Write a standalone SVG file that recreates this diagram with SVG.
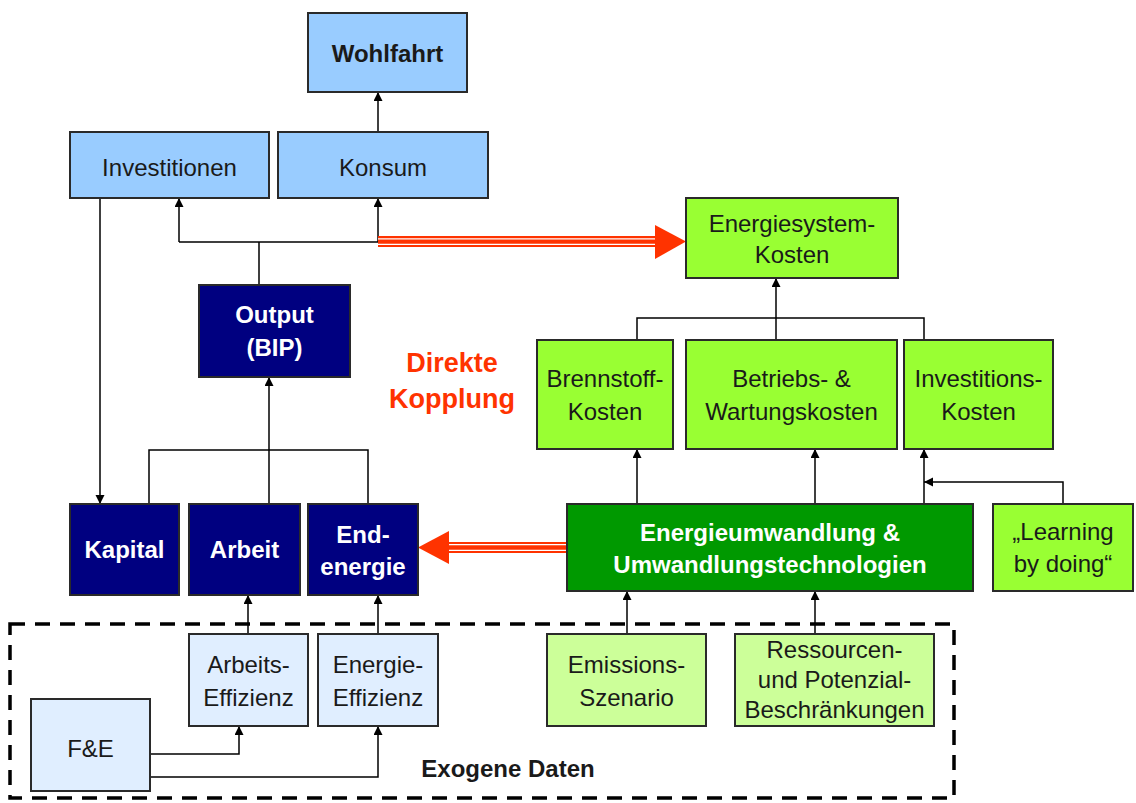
<svg xmlns="http://www.w3.org/2000/svg" width="1136" height="803" viewBox="0 0 1136 803">
<defs>
<style>
.box{stroke:#2a2a2a;stroke-width:2}
.lb{fill:#99CCFF}
.nv{fill:#000080}
.lg{fill:#99FF33}
.dg{fill:#009900}
.pg{fill:#CCFF99}
.pb{fill:#E0EEFF}
.t{font-family:"Liberation Sans",Arial,sans-serif;font-size:24px;fill:#1a1a1a;text-anchor:middle}
.tb{font-family:"Liberation Sans",Arial,sans-serif;font-size:24px;font-weight:bold;fill:#1a1a1a;text-anchor:middle}
.tw{font-family:"Liberation Sans",Arial,sans-serif;font-size:24px;font-weight:bold;fill:#ffffff;text-anchor:middle}
.c{fill:none;stroke:#000;stroke-width:1.5}
.a{marker-end:url(#ah)}
</style>
<marker id="ah" markerUnits="userSpaceOnUse" markerWidth="10" markerHeight="10" refX="9" refY="4.5" orient="auto">
<path d="M0,0 L9,4.5 L0,9 z" fill="#000"/>
</marker>
</defs>
<rect width="1136" height="803" fill="#fff"/>

<g id="exogen-frame">
<rect x="10" y="624" width="944" height="174" fill="none" stroke="#000" stroke-width="3.5" stroke-dasharray="15,10"/>
<text class="tb" x="508" y="777" font-size="22">Exogene Daten</text>
</g>

<g id="connectors">
<path class="c a" d="M378,132 V92"/>
<path class="c" d="M259,285 V242 M179,242 H378"/>
<path class="c a" d="M179,242 V198"/>
<path class="c a" d="M378,242 V198"/>
<path class="c a" d="M100,198 V504"/>
<path class="c" d="M149,504 V450 H368 V504"/>
<path class="c a" d="M269,504 V377"/>
<path class="c a" d="M248,634 V595"/>
<path class="c a" d="M378,634 V595"/>
<path class="c a" d="M150,754 H239 V726"/>
<path class="c a" d="M150,777 H378 V726"/>
<path class="c a" d="M627,634 V591"/>
<path class="c a" d="M815,634 V591"/>
<path class="c a" d="M637,504 V449"/>
<path class="c a" d="M815,504 V449"/>
<path class="c a" d="M924,504 V449"/>
<path class="c a" d="M1063,504 V482 H924"/>
<path class="c" d="M637,340 V318 H924 V340"/>
<path class="c a" d="M776,340 V278"/>
<g id="kopplung-right">
<line x1="378" y1="241.5" x2="656" y2="241.5" stroke="#FF3300" stroke-width="11"/>
<line x1="378" y1="238.8" x2="656" y2="238.8" stroke="#fff" stroke-width="1.3"/>
<line x1="378" y1="244.3" x2="656" y2="244.3" stroke="#fff" stroke-width="1.3"/>
<polygon points="655,225 686,241.5 655,259" fill="#FF3300"/>
</g>
<g id="kopplung-left">
<line x1="567" y1="547.5" x2="448" y2="547.5" stroke="#FF3300" stroke-width="11"/>
<line x1="567" y1="544.7" x2="448" y2="544.7" stroke="#fff" stroke-width="1.3"/>
<line x1="567" y1="550.3" x2="448" y2="550.3" stroke="#fff" stroke-width="1.3"/>
<polygon points="449,531 418,547.5 449,564" fill="#FF3300"/>
</g>
</g>

<g id="wohlfahrt"><rect class="box lb" x="308" y="13" width="159" height="79"/><text class="tb" x="387.5" y="62">Wohlfahrt</text></g>
<g id="investitionen"><rect class="box lb" x="70" y="132" width="199" height="66"/><text class="t" x="169.5" y="176">Investitionen</text></g>
<g id="konsum"><rect class="box lb" x="278" y="132" width="210" height="66"/><text class="t" x="383" y="176">Konsum</text></g>
<g id="output"><rect class="box nv" x="199" y="285" width="151" height="92"/><text class="tw" x="274.5" y="323">Output</text><text class="tw" x="274.5" y="356">(BIP)</text></g>
<g id="kapital"><rect class="box nv" x="70" y="504" width="109" height="91"/><text class="tw" x="124.5" y="558">Kapital</text></g>
<g id="arbeit"><rect class="box nv" x="189" y="504" width="111" height="91"/><text class="tw" x="244.5" y="558">Arbeit</text></g>
<g id="endenergie"><rect class="box nv" x="308" y="504" width="110" height="91"/><text class="tw" x="363" y="543">End-</text><text class="tw" x="363" y="575">energie</text></g>

<g id="direkte-kopplung"><text class="tb" x="452" y="372" font-size="27" style="fill:#FF3300;font-size:27px">Direkte</text><text class="tb" x="452" y="408" style="fill:#FF3300;font-size:27px">Kopplung</text></g>

<g id="energiesystemkosten"><rect class="box lg" x="686" y="198" width="212" height="80"/><text class="t" x="792" y="232">Energiesystem-</text><text class="t" x="792" y="263">Kosten</text></g>
<g id="brennstoffkosten"><rect class="box lg" x="537" y="340" width="136" height="109"/><text class="t" x="605" y="387">Brennstoff-</text><text class="t" x="605" y="420">Kosten</text></g>
<g id="betriebskosten"><rect class="box lg" x="686" y="340" width="211" height="109"/><text class="t" x="791.5" y="387">Betriebs- &amp;</text><text class="t" x="791.5" y="420">Wartungskosten</text></g>
<g id="investitionskosten"><rect class="box lg" x="904" y="340" width="149" height="109"/><text class="t" x="978.5" y="387">Investitions-</text><text class="t" x="978.5" y="420">Kosten</text></g>
<g id="energieumwandlung"><rect class="box dg" x="567" y="504" width="406" height="87"/><text class="tw" x="770" y="541">Energieumwandlung &amp;</text><text class="tw" x="770" y="573">Umwandlungstechnologien</text></g>
<g id="learning"><rect class="box lg" x="993" y="504" width="140" height="87"/><text class="t" x="1063" y="540">„Learning</text><text class="t" x="1063" y="572">by doing“</text></g>

<g id="arbeitseffizienz"><rect class="box pb" x="189" y="634" width="119" height="92"/><text class="t" x="248.5" y="673">Arbeits-</text><text class="t" x="248.5" y="706">Effizienz</text></g>
<g id="energieeffizienz"><rect class="box pb" x="318" y="634" width="120" height="92"/><text class="t" x="378" y="673">Energie-</text><text class="t" x="378" y="706">Effizienz</text></g>
<g id="fe"><rect class="box pb" x="31" y="699" width="119" height="92"/><text class="t" x="90.5" y="757">F&amp;E</text></g>
<g id="emissionsszenario"><rect class="box pg" x="547" y="634" width="159" height="92"/><text class="t" x="626.5" y="673">Emissions-</text><text class="t" x="626.5" y="706">Szenario</text></g>
<g id="ressourcen"><rect class="box pg" x="735" y="634" width="199" height="92"/><text class="t" x="834.5" y="658">Ressourcen-</text><text class="t" x="834.5" y="688">und Potenzial-</text><text class="t" x="834.5" y="718">Beschränkungen</text></g>
</svg>
